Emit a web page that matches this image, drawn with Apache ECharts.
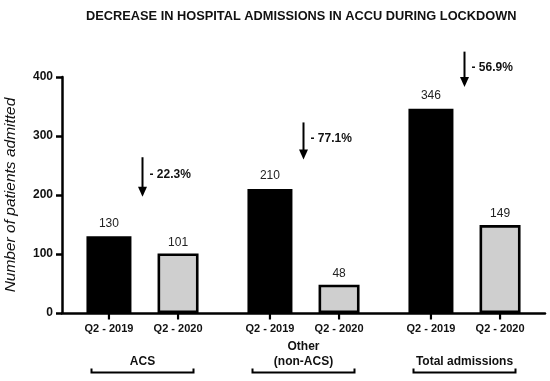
<!DOCTYPE html>
<html><head><meta charset="utf-8">
<script src="https://cdn.jsdelivr.net/npm/echarts@6/dist/echarts.min.js"></script>
<style>html,body{margin:0;padding:0;background:#fff}#c{width:550px;height:381px}</style>
</head><body><div id="c"></div>
<script>
// ---- data ----
const groups = ['ACS', 'Other\n(non-ACS)', 'Total admissions'];
const periods = ['Q2 - 2019', 'Q2 - 2020'];
const values2019 = [130, 210, 346];
const values2020 = [101, 48, 149];
const pctChange = ['- 22.3%', '- 77.1%', '- 56.9%'];
const arrowTop = [264, 323, 443];
const arrowTip = [197, 260, 383];
const yTicks = [0, 100, 200, 300, 400];
const titleText = 'DECREASE IN HOSPITAL ADMISSIONS IN ACCU DURING LOCKDOWN';
const yName = 'Number of patients admitted';

// ---- style ----
const FONT = '"Liberation Sans", Arial, Helvetica, sans-serif';
const W1 = 45, W2 = 41, GAP = 0.58;
const sumW = W1 * (1 + GAP) + W2;
const offsets = [-sumW / 2 + W1 / 2, -sumW / 2 + W1 * (1 + GAP) + W2 / 2];

const chart = echarts.init(document.getElementById('c'), null, {renderer: 'canvas'});

const periodData = [];
groups.forEach((g, gi) => periods.forEach((p, pi) => periodData.push([gi, pi])));

chart.setOption({
  animation: false,
  backgroundColor: '#fff',
  textStyle: {fontFamily: FONT},
  title: {
    text: titleText, left: 81, top: 5,
    textStyle: {fontFamily: FONT, fontSize: 12.8, fontWeight: 'bold', color: '#111'}
  },
  grid: {left: 62, right: 5, top: 77, bottom: 68, containLabel: false, outerBoundsMode: 'none'},
  xAxis: {
    type: 'category', data: groups,
    axisLine: {lineStyle: {color: '#000', width: 2.5}},
    axisTick: {show: false},
    axisLabel: {
      fontFamily: FONT, fontSize: 12, fontWeight: 'bold', color: '#111',
      verticalAlign: 'bottom', lineHeight: 15, margin: 56, interval: 0
    }
  },
  yAxis: {
    type: 'value', min: yTicks[0], max: yTicks[yTicks.length - 1],
    interval: yTicks[1] - yTicks[0],
    name: yName, nameLocation: 'middle', nameGap: 43,
    nameTextStyle: {fontFamily: FONT, fontSize: 15.5, fontStyle: 'italic', color: '#111'},
    axisLine: {show: true, lineStyle: {color: '#000', width: 2.5}},
    axisTick: {show: true, length: 6, lineStyle: {color: '#000', width: 2.5}},
    axisLabel: {fontFamily: FONT, fontSize: 12, fontWeight: 'bold', color: '#111', margin: 9},
    splitLine: {show: false}
  },
  series: [
    {
      type: 'bar', name: periods[0], data: values2019, barWidth: W1,
      itemStyle: {color: '#000'},
      label: {show: true, position: 'top', distance: 7, fontFamily: FONT, fontSize: 12, color: '#222'}
    },
    {
      type: 'bar', name: periods[1], data: values2020, barWidth: W2, barGap: (GAP * 100) + '%',
      itemStyle: {color: '#cfcfcf', borderColor: '#000', borderWidth: 2.6},
      label: {show: true, position: 'top', distance: 5, fontFamily: FONT, fontSize: 12, color: '#222'}
    },
    {
      // period ticks and labels under each bar
      type: 'custom', silent: true, clip: false,
      data: periodData,
      renderItem: function (params, api) {
        const gi = api.value(0), pi = api.value(1);
        const p = api.coord([gi, 0]);
        const x = p[0] + offsets[pi];
        return {
          type: 'group', children: [
            {type: 'line', shape: {x1: x, y1: p[1], x2: x, y2: p[1] + 6.5}, style: {stroke: '#000', lineWidth: 2.2}},
            {type: 'text', style: {text: periods[pi], x: x, y: p[1] + 10, align: 'center', verticalAlign: 'top',
              font: 'bold 11px ' + FONT, fill: '#111'}}
          ]
        };
      }
    },
    {
      // brackets under group labels
      type: 'custom', silent: true, clip: false,
      data: groups.map((g, i) => [i]),
      renderItem: function (params, api) {
        const p = api.coord([api.value(0), 0]);
        const y = p[1] + 59.5, h = 51;
        return {
          type: 'polyline',
          shape: {points: [[p[0] - h, y - 4], [p[0] - h, y], [p[0] + h, y], [p[0] + h, y - 4]]},
          style: {stroke: '#000', lineWidth: 2, fill: null}
        };
      }
    },
    {
      // change arrows with percentages
      type: 'custom', silent: true, clip: false,
      data: groups.map((g, i) => [i, arrowTop[i], arrowTip[i]]),
      renderItem: function (params, api) {
        const i = api.value(0);
        const top = api.coord([i, api.value(1)]);
        const tip = api.coord([i, api.value(2)]);
        const x = top[0];
        return {
          type: 'group', children: [
            {type: 'line', shape: {x1: x, y1: top[1], x2: x, y2: tip[1] - 8}, style: {stroke: '#000', lineWidth: 2}},
            {type: 'polygon', shape: {points: [[x - 4.5, tip[1] - 10], [x + 4.5, tip[1] - 10], [x, tip[1]]]}, style: {fill: '#000'}},
            {type: 'text', style: {text: pctChange[i], x: x + 7, y: (top[1] + tip[1]) / 2 - 2, align: 'left', verticalAlign: 'middle',
              font: 'bold 12px ' + FONT, fill: '#111'}}
          ]
        };
      }
    }
  ]
});
</script>
</body></html>
